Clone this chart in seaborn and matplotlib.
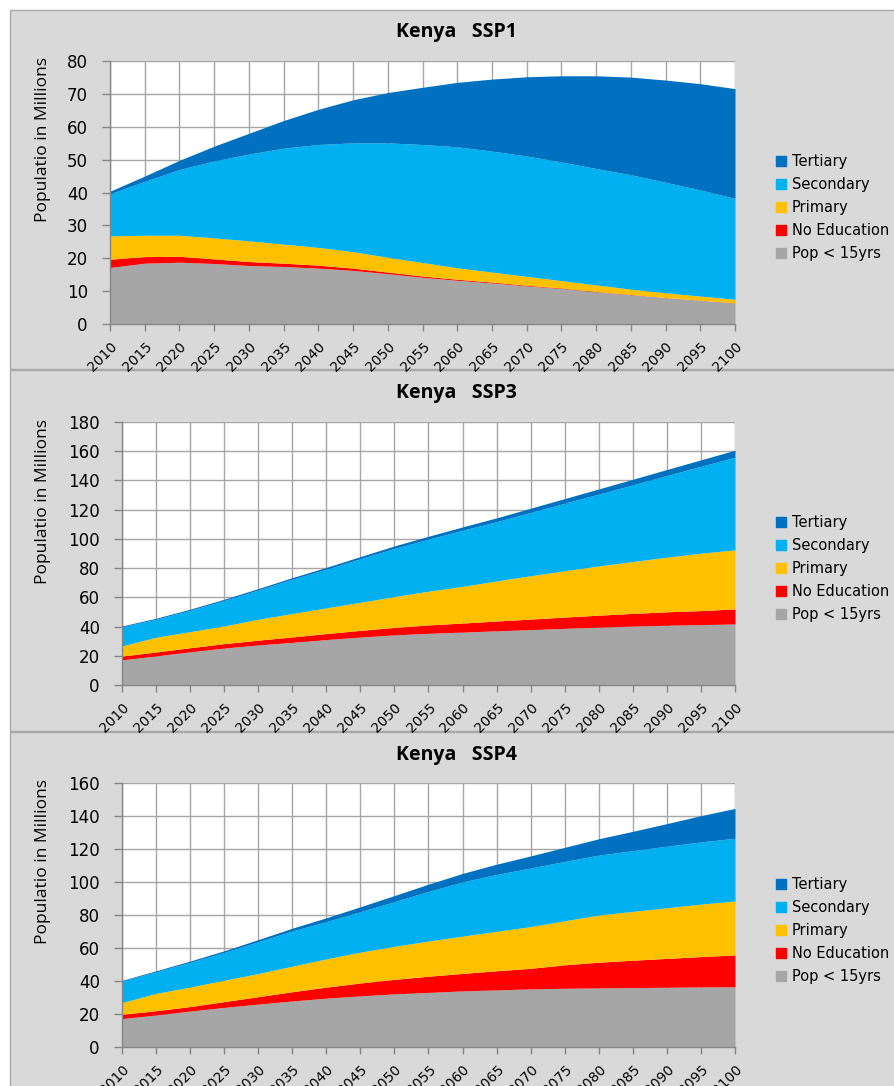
import numpy as np
import pandas as pd
import matplotlib
matplotlib.use("Agg")
import matplotlib.pyplot as plt
from matplotlib.patches import Rectangle
from matplotlib.lines import Line2D
import seaborn as sns

W, H = 895, 1086

years = list(range(2010, 2101, 5))
labels = ["Pop < 15yrs", "No Education", "Primary", "Secondary", "Tertiary"]
colors = ["#A6A6A6", "#FF0000", "#FFC000", "#00B0F0", "#0070C0"]

# population in millions, one layer per education level (stacked from the bottom)
ssp1_pop15 = [17.2, 18.5, 18.8, 18.4, 17.8, 17.5, 17.0, 16.3, 15.3, 14.2, 13.3, 12.5, 11.6, 10.8, 9.8, 8.9, 8.0, 7.2, 6.4]
ssp1_noedu = [2.5, 2.0, 1.8, 1.4, 1.2, 1.0, 0.9, 0.7, 0.5, 0.4, 0.3, 0.25, 0.2, 0.15, 0.1, 0.1, 0.05, 0.05, 0.05]
ssp1_prim = [7.1, 6.5, 6.4, 6.4, 6.3, 5.8, 5.4, 5.0, 4.5, 4.1, 3.5, 3.05, 2.7, 2.25, 2.0, 1.6, 1.45, 1.25, 1.05]
ssp1_sec = [12.8, 16.4, 20.0, 23.4, 26.4, 29.2, 31.3, 33.1, 34.8, 35.9, 36.8, 36.8, 36.6, 36.1, 35.4, 34.8, 33.6, 32.3, 30.7]
ssp1_tert = [0.8, 1.6, 2.8, 4.5, 6.3, 8.4, 10.7, 13.1, 15.3, 17.4, 19.6, 21.9, 24.1, 26.2, 28.2, 29.7, 31.1, 32.3, 33.4]

ssp3_pop15 = [17.2, 19.9, 22.7, 25.3, 27.4, 29.2, 31.1, 32.8, 34.3, 35.4, 36.2, 37.1, 37.9, 38.8, 39.6, 40.3, 40.9, 41.3, 41.8]
ssp3_noedu = [2.6, 2.7, 2.8, 3.0, 3.3, 3.7, 4.1, 4.6, 5.1, 5.7, 6.2, 6.7, 7.2, 7.7, 8.2, 8.7, 9.2, 9.6, 10.3]
ssp3_prim = [6.9, 10.1, 11.0, 12.1, 14.3, 16.0, 17.6, 19.2, 21.1, 23.1, 25.1, 27.4, 29.7, 31.7, 33.7, 35.5, 37.4, 39.3, 40.4]
ssp3_sec = [13.1, 12.3, 14.6, 17.4, 20.0, 23.5, 26.4, 29.8, 33.0, 35.6, 38.4, 40.6, 43.3, 46.2, 49.2, 52.5, 55.9, 59.5, 63.4]
ssp3_tert = [0.6, 0.7, 0.8, 0.9, 1.0, 1.1, 1.3, 1.5, 1.7, 2.0, 2.3, 2.6, 2.9, 3.2, 3.5, 3.8, 4.1, 4.4, 4.8]

ssp4_pop15 = [17.2, 19.4, 21.8, 24.0, 26.0, 27.9, 29.6, 31.0, 32.2, 33.1, 34.0, 34.6, 35.2, 35.6, 35.8, 36.0, 36.2, 36.4, 36.5]
ssp4_noedu = [2.6, 2.6, 2.7, 3.5, 4.5, 5.6, 6.7, 7.8, 8.8, 9.8, 10.6, 11.6, 12.5, 14.2, 15.6, 16.6, 17.5, 18.4, 19.3]
ssp4_prim = [7.1, 10.5, 11.8, 13.0, 14.0, 15.5, 17.1, 18.7, 20.0, 21.3, 22.6, 23.9, 25.3, 26.7, 28.6, 29.6, 30.7, 31.8, 32.7]
ssp4_sec = [13.1, 13.1, 15.0, 16.8, 19.3, 21.3, 22.6, 24.5, 27.1, 30.1, 32.8, 34.5, 35.5, 36.0, 36.3, 36.8, 37.3, 37.7, 38.0]
ssp4_tert = [0.4, 0.6, 0.8, 1.0, 1.3, 1.7, 2.3, 3.0, 3.7, 4.4, 5.2, 6.2, 7.3, 8.5, 9.9, 11.7, 13.7, 15.9, 18.1]

frames = {
    "SSP1": pd.DataFrame(dict(zip(labels, [ssp1_pop15, ssp1_noedu, ssp1_prim, ssp1_sec, ssp1_tert])), index=years),
    "SSP3": pd.DataFrame(dict(zip(labels, [ssp3_pop15, ssp3_noedu, ssp3_prim, ssp3_sec, ssp3_tert])), index=years),
    "SSP4": pd.DataFrame(dict(zip(labels, [ssp4_pop15, ssp4_noedu, ssp4_prim, ssp4_sec, ssp4_tert])), index=years),
}

# name, ymax, ystep, axes box (left, top, right, bottom px), panel (top, bottom px), title y, ylabel y, legend top
panels = [
    ("SSP1", 80, 10, (110, 61, 735, 324), (10, 369), 32, 140, 154),
    ("SSP3", 180, 20, (122, 422, 735, 685), (370, 731), 393, 501, 515),
    ("SSP4", 160, 20, (122, 783, 735, 1047), (732, 1090), 755, 862, 877),
]

sns.set_theme(style="whitegrid", rc={"text.color": "black", "xtick.color": "black",
                                     "ytick.color": "black", "axes.labelcolor": "black"})
plt.rcParams["font.family"] = ["DejaVu Sans"]

fig = plt.figure(figsize=(W / 100, H / 100), dpi=100)
fig.patch.set_facecolor("white")

handles = [Line2D([], [], marker="s", linestyle="none", markersize=7,
                  markerfacecolor=c, markeredgecolor=c) for c in colors][::-1]

for name, ymax, ystep, (l, t, r, b), (pt, pb), ty, ly, lt in panels:
    fig.add_artist(Rectangle((10 / W, 1 - pb / H), (W - 9) / W, (pb - pt) / H,
                             transform=fig.transFigure, facecolor="#D9D9D9",
                             edgecolor="#A8A8A8", linewidth=1, zorder=-10))
    ax = fig.add_axes([l / W, 1 - b / H, (r - l) / W, (b - t) / H])
    ax.set_zorder(1)
    df = frames[name]
    ax.stackplot(df.index, [df[c].values for c in labels], colors=colors,
                 linewidth=0, zorder=2)
    ax.set_facecolor("white")
    ax.set_xlim(2010, 2100)
    ax.set_ylim(0, ymax)
    ax.set_xticks(years)
    ax.set_xticklabels([str(y) for y in years], rotation=45, ha="right",
                       rotation_mode="anchor", fontsize=10)
    ax.set_yticks(np.arange(0, ymax + 1, ystep))
    ax.tick_params(axis="y", labelsize=12, length=6, width=1, color="#868686",
                   direction="out", pad=10, left=True)
    ax.tick_params(axis="x", length=5, width=1, color="#868686",
                   direction="out", pad=6, bottom=True)
    ax.grid(True, color="#A6A6A6", linewidth=1)
    ax.set_axisbelow(True)
    sns.despine(ax=ax, top=True, right=True)
    for s in ("left", "bottom"):
        ax.spines[s].set_color("#868686")
        ax.spines[s].set_linewidth(1)
    fig.text(456 / W, 1 - ty / H, f"Kenya   {name}", ha="center", va="center",
             fontsize=14, fontweight="bold", family=["Open Sans", "DejaVu Sans"])
    fig.text(43 / W, 1 - ly / H, "Populatio in Millions", rotation=90,
             ha="center", va="center", fontsize=12.5,
             family=["Liberation Sans Narrow", "Open Sans", "DejaVu Sans"])
    fig.legend(handles, labels[::-1], loc="upper left",
               bbox_to_anchor=(776 / W, 1 - lt / H), frameon=False,
               fontsize=10.5, handlelength=0.7, handletextpad=0.4,
               labelspacing=0.55, borderpad=0, borderaxespad=0)

fig.savefig("out.png", dpi=100)
